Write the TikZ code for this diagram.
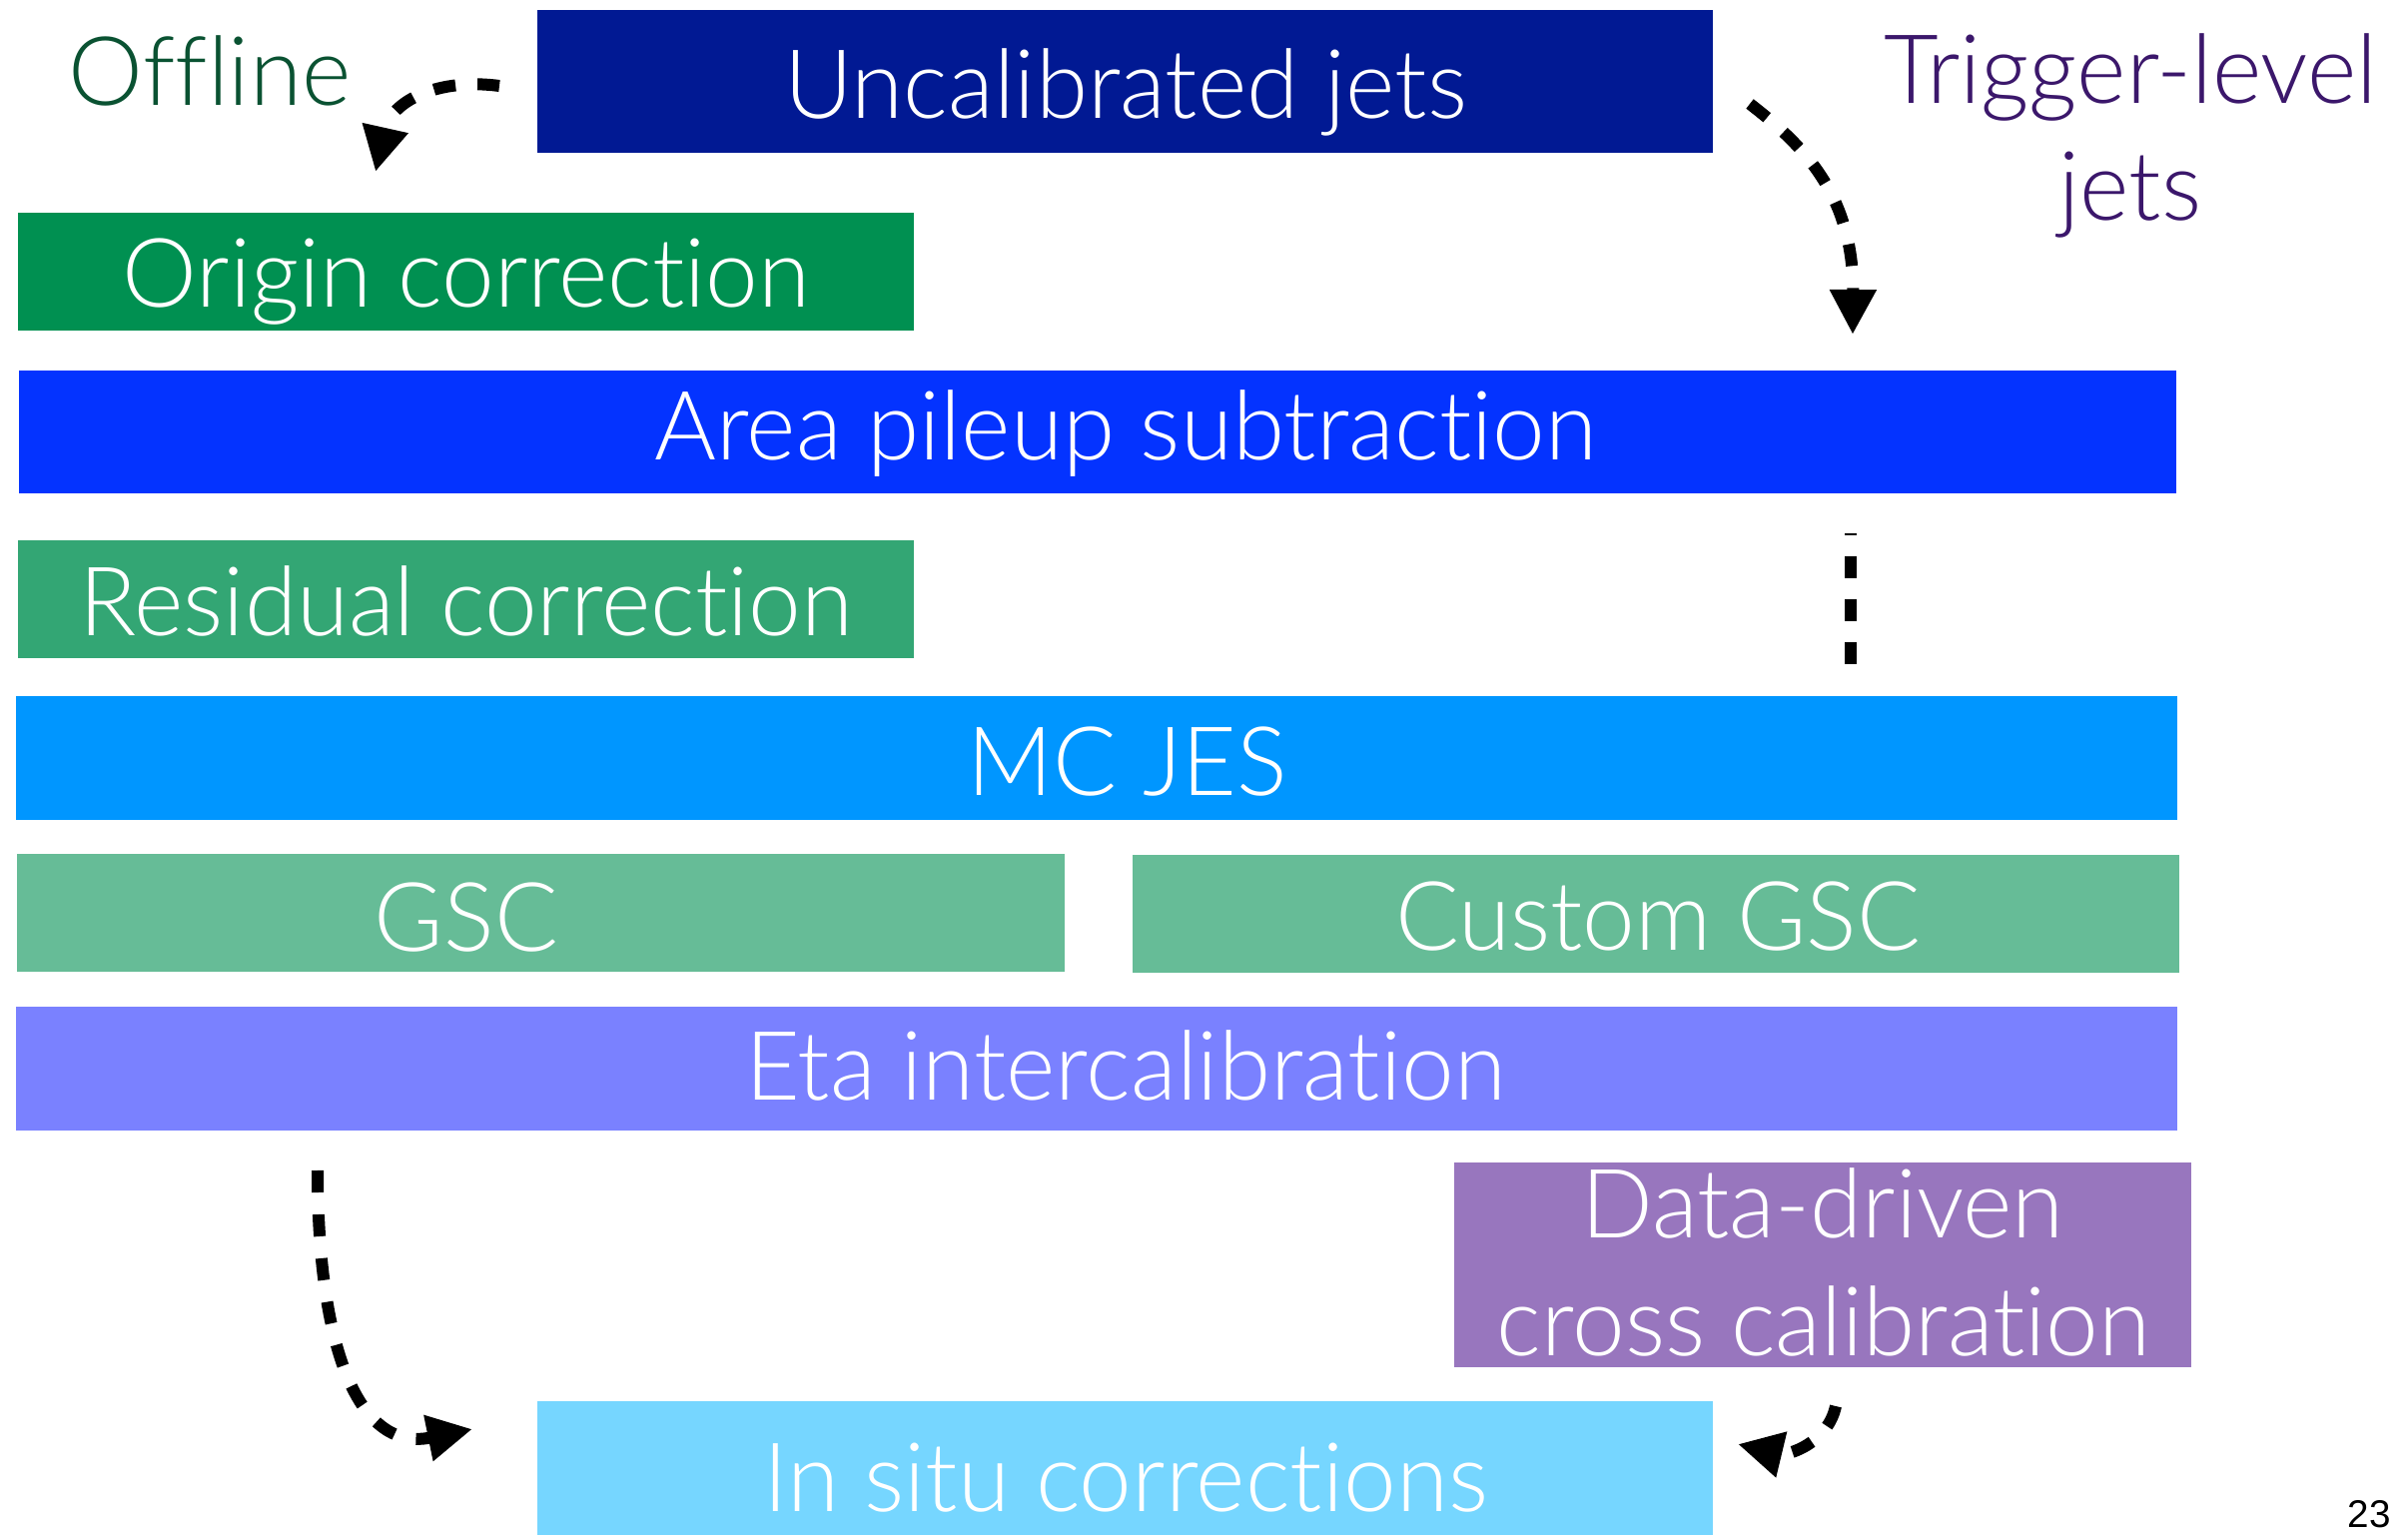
\documentclass[tikz,border=0pt]{standalone}
\usepackage{fontspec}
\setmainfont{Lato Light}[Ligatures=NoCommon, FakeStretch=0.985]
\newfontfamily\numfont{Liberation Sans}
\usetikzlibrary{arrows.meta}

% Palette
\definecolor{cMidnight}{HTML}{011993}
\definecolor{cMoss}{HTML}{009051}
\definecolor{cBlueberry}{HTML}{0433FF}
\definecolor{cMossLight}{HTML}{33A674}
\definecolor{cAqua}{HTML}{0096FF}
\definecolor{cMossPale}{HTML}{66BC97}
\definecolor{cOrchid}{HTML}{7A81FF}
\definecolor{cPlum}{HTML}{9876BE}
\definecolor{cSky}{HTML}{76D6FF}
\definecolor{cOffline}{HTML}{0A5232}
\definecolor{cTrigger}{HTML}{3B176B}

\tikzset{
  box/.style={rectangle, draw=none, inner sep=0pt, outer sep=0pt},
  lbl/.style={anchor=base, inner sep=0pt, outer sep=0pt, text=white,
              font=\fontsize{27.3}{33}\selectfont},
  side/.style={lbl},
  flow/.style={line width=0.12cm, dash pattern=on 0.22cm off 0.22cm,
               -{Triangle[length=0.45cm,width=0.44cm]}},
  flowplain/.style={line width=0.12cm, dash pattern=on 0.215cm off 0.215cm},
}

\begin{document}
\begin{tikzpicture}[x=0.01cm,y=-0.01cm]
\useasboundingbox (0,0) rectangle (2411,1537);
\clip (0,0) rectangle (2411,1537);

% calibration stages
\node[box, fill=cMidnight,  minimum width=11.77cm, minimum height=1.43cm] (uncal)  at (1126.5,81.5) {};
\node[box, fill=cMoss,      minimum width=8.97cm,  minimum height=1.18cm] (origin) at (466.5,272) {};
\node[box, fill=cBlueberry, minimum width=21.58cm, minimum height=1.23cm] (area)   at (1099,432.5) {};
\node[box, fill=cMossLight, minimum width=8.97cm,  minimum height=1.18cm] (resid)  at (466.5,600) {};
\node[box, fill=cAqua,      minimum width=21.62cm, minimum height=1.24cm] (mcjes)  at (1098,759) {};
\node[box, fill=cMossPale,  minimum width=10.49cm, minimum height=1.18cm] (gsc)    at (541.5,914) {};
\node[box, fill=cMossPale,  minimum width=10.48cm, minimum height=1.18cm] (cgsc)   at (1658,915) {};
\node[box, fill=cOrchid,    minimum width=21.62cm, minimum height=1.24cm] (eta)    at (1098,1070) {};
\node[box, fill=cPlum,      minimum width=7.38cm,  minimum height=2.05cm] (ddc)    at (1825,1266.5) {};
\node[box, fill=cSky,       minimum width=11.77cm, minimum height=1.40cm] (insitu) at (1126.5,1473) {};

% stage labels
\node[lbl] (uncalT)  at (1127,119)  {Uncalibrated jets};
\node[lbl] (originT) at (467,308)   {Origin correction};
\node[lbl] (areaT)   at (1127,461)  {Area pileup subtraction};
\node[lbl] (residT)  at (467,637)   {Residual correction};
\node[lbl] (mcjesT)  at (1129,797)  {MC JES};
\node[lbl] (gscT)    at (467,953)   {GSC};
\node[lbl] (cgscT)   at (1660,952)  {Custom GSC};
\node[lbl] (etaT)    at (1127,1102) {Eta intercalibration};
\node[lbl] (ddcT)    at (1825,1239) {Data-driven};
\node[lbl] (ddcTb)   at (1826,1357) {cross calibration};
\node[lbl] (insituT) at (1127,1513) {In situ corrections};

% side headings
\node[side, text=cOffline] (offline) at (210,106) {Offline};
\node[side, text=cTrigger] (trig)    at (2133,104) {Trigger-level};
\node[side, text=cTrigger] (trigb)   at (2133,221) {jets};

% page number
\node[anchor=base, inner sep=0pt, font=\numfont\fontsize{11}{13}\selectfont] (page) at (2372,1529) {23};

% connector end points
\coordinate (offS)  at (500,86);
\coordinate (offE)  at (376,172);
\coordinate (trgS)  at (1752,104);
\coordinate (trgE)  at (1855,335);
\coordinate (vS)    at (1853,665);
\coordinate (vE)    at (1853,534);
\coordinate (dwnS)  at (318,1172);
\coordinate (dwnE)  at (473,1431);
\coordinate (ddcS)  at (1838,1408);
\coordinate (ddcE)  at (1740,1446);

% flow arrows
\draw[flow] (offS) .. controls (440,78) and (392,100) .. (offE);
\draw[flow] (trgS) .. controls (1805,145) and (1856,195) .. (trgE);
\draw[flowplain] (vS) -- (vE);
\draw[flow] (dwnS) .. controls (318,1340) and (355,1455) .. (dwnE);
\draw[flow] (ddcS) .. controls (1830,1445) and (1790,1458) .. (ddcE);
\end{tikzpicture}
\end{document}
